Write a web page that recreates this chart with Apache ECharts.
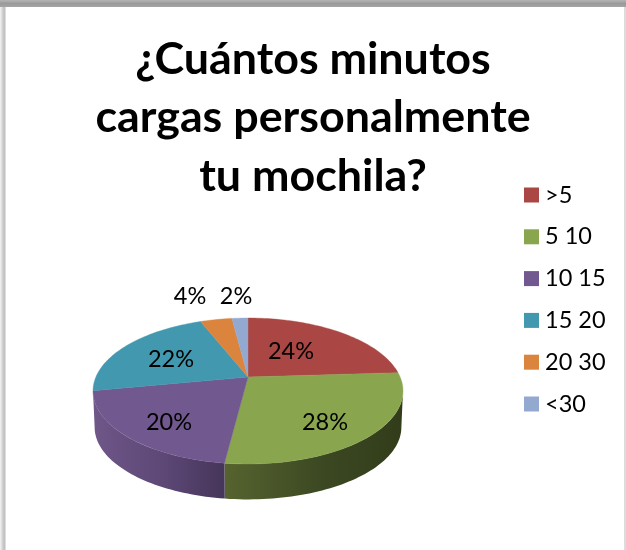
<!DOCTYPE html>
<html><head><meta charset="utf-8">
<style>html,body{margin:0;padding:0;background:#fff}#c{width:626px;height:550px}</style>
<script src="https://cdn.jsdelivr.net/npm/echarts@6/dist/echarts.min.js"></script>
</head><body><div id="c"></div>
<script>
const categories = ['>5', '5 10', '10 15', '15 20', '20 30', '<30'];
const values = [24, 28, 20, 22, 4, 2];
const colors = ['#AA4643', '#89A54E', '#71588F', '#4198AF', '#DB843D', '#93A9CF'];
const wallColors = [null, ['#56632f', '#3c4822', '#323c1a'], ['#6f5789', '#5c4775', '#46355a'], null, null, null];
const labelAt = [[291, 351], [325, 422], [169, 422], [171, 359], [190, 296], [236, 296]];
const titleText = '¿Cuántos minutos\ncargas personalmente\ntu mochila?';

const FONT = 'Lato, "Open Sans", sans-serif';
const CX = 248, CY = 377, PX = 152.1, PY = 70.3, K = 0.1918, DEPTH = 36.5, WALL_SCALE = 0.99;
const total = values.reduce((a, b) => a + b, 0);
const rad = d => d * Math.PI / 180;
function proj(theta, r, dy) {
  const u = Math.sin(theta) * r, v = Math.cos(theta) * r, w = 1 + K * v;
  return [CX + PX * u / w, CY - PY * v / w + dy];
}
const SIL = Math.acos(-K);
function arc(a, b, r, dy) {
  const n = Math.max(2, Math.ceil(Math.abs(b - a) / rad(1.5))), pts = [];
  for (let i = 0; i <= n; i++) pts.push(proj(a + (b - a) * i / n, r, dy));
  return pts;
}
let acc = 0;
const series = values.map((val, i) => {
  const a0 = acc / total * 2 * Math.PI; acc += val;
  const a1 = acc / total * 2 * Math.PI;
  return {
    type: 'custom', name: categories[i], coordinateSystem: 'none', silent: true, animation: false,
    itemStyle: { color: colors[i] }, data: [val],
    renderItem: () => {
      const children = [];
      const wa = Math.max(a0, SIL), wb = Math.min(a1, 2 * Math.PI - SIL);
      if (wb > wa && wallColors[i]) {
        const pts = arc(wa, wb, 1, 0).concat(arc(wb, wa, WALL_SCALE, DEPTH));
        const c = wallColors[i];
        children.push({ type: 'polygon', shape: { points: pts }, style: {
          fill: new echarts.graphic.LinearGradient(0, 0, 1, 0, [
            { offset: 0, color: c[0] }, { offset: 0.55, color: c[1] }, { offset: 1, color: c[2] }]) } });
      }
      const top = [proj(0, 0, 0)].concat(arc(a0, a1, 1, 0));
      children.push({ type: 'polygon', shape: { points: top },
        style: { fill: colors[i], stroke: colors[i], lineWidth: 0.4 } });
      children.push({ type: 'text', z2: 10, x: labelAt[i][0], y: labelAt[i][1], style: {
        text: Math.round(val / total * 100) + '%', fill: '#000', font: '23.5px ' + FONT,
        align: 'center', verticalAlign: 'middle' } });
      return { type: 'group', children };
    }
  };
});
const chart = echarts.init(document.getElementById('c'), null, { renderer: 'canvas' });
chart.setOption({
  backgroundColor: '#fff', animation: false,
  title: { text: titleText, left: 'center', top: 30, padding: 0,
    textStyle: { fontFamily: FONT, fontSize: 44.8, fontWeight: 'bold', color: '#000', lineHeight: 58.5 } },
  legend: { orient: 'vertical', left: 524, top: 183, padding: 0, itemWidth: 15, itemHeight: 15, itemGap: 17.8,
    icon: 'rect', selectedMode: false,
    textStyle: { fontFamily: FONT, fontSize: 23.5, color: '#000', lineHeight: 20, padding: [0, 0, 0, 1] },
    data: categories },
  graphic: [
    { type: 'rect', shape: { x: 0, y: 0, width: 626, height: 7 }, z: 100, silent: true, style: {
      fill: new echarts.graphic.LinearGradient(0, 0, 0, 1, [
        { offset: 0, color: '#b5b5b5' }, { offset: 0.5, color: '#9a9a9a' }, { offset: 1, color: '#a5a5a5' }]) } },
    { type: 'rect', shape: { x: 0, y: 6, width: 6, height: 544 }, z: 99, silent: true, style: {
      fill: new echarts.graphic.LinearGradient(0, 0, 1, 0, [
        { offset: 0, color: '#f4f4f4' }, { offset: 0.7, color: '#bcbcbc' }, { offset: 1, color: '#e8e8e8' }]) } },
    { type: 'rect', shape: { x: 624, y: 6, width: 2, height: 544 }, z: 99, silent: true, style: { fill: '#dcdcdc' } }
  ],
  series
});
</script></body></html>
